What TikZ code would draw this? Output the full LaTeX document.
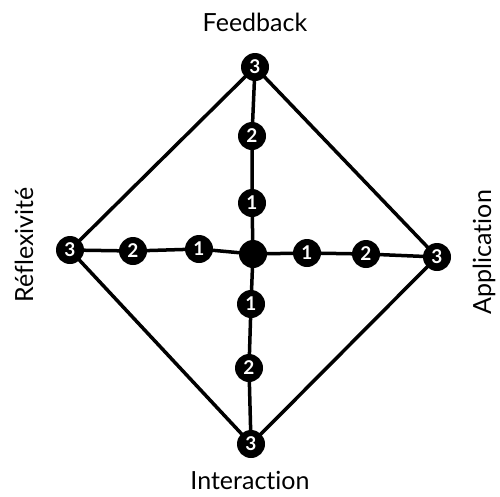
\documentclass[tikz,border=0pt]{standalone}
\usepackage{fontspec}
\setmainfont[Ligatures={NoCommon,NoRare}]{Lato}
\begin{document}
\begin{tikzpicture}[x=1pt,y=-1pt,
  dot/.style={circle,fill=black,minimum size=28pt,inner sep=0pt,text=white,font=\fontsize{19}{19}\selectfont\bfseries},
  edge/.style={line width=3.5pt,line cap=round,line join=round},
  lbl/.style={font=\fontsize{25}{25}\selectfont}]
\useasboundingbox (0,0) rectangle (500,496);
% nodes (coordinates only, drawn later on top)
\coordinate (c) at (253,254);
\coordinate (t3) at (255,67);
\coordinate (t2) at (252,136);
\coordinate (t1) at (252,203);
\coordinate (b1) at (251,304);
\coordinate (b2) at (249,368);
\coordinate (b3) at (251,444);
\coordinate (l3) at (70,250);
\coordinate (l2) at (133,251);
\coordinate (l1) at (199,249);
\coordinate (r1) at (307,253);
\coordinate (r2) at (366,254);
\coordinate (r3) at (437,257);
% labels
\node[lbl] (fb) at (255,22) {Feedback};
\node[lbl] (ia) at (250,480) {Interaction};
\node[lbl,rotate=90] (re) at (24,245) {Réflexivité};
\node[lbl,rotate=90] (ap) at (484,252) {Application};
% connectors
\draw[edge] (t3) -- (t2) -- (t1) -- (c) -- (b1) -- (b2) -- (b3);
\draw[edge] (l3) -- (l2) -- (l1) -- (c) -- (r1) -- (r2) -- (r3);
\draw[edge] (t3) -- (r3) -- (b3) -- (l3) -- cycle;
% nodes on top
\foreach \n/\t in {c/,t3/3,t2/2,t1/1,b1/1,b2/2,b3/3,l3/3,l2/2,l1/1,r1/1,r2/2,r3/3}{
  \node[dot] (n\n) at (\n) {\t};
}
\end{tikzpicture}
\end{document}
